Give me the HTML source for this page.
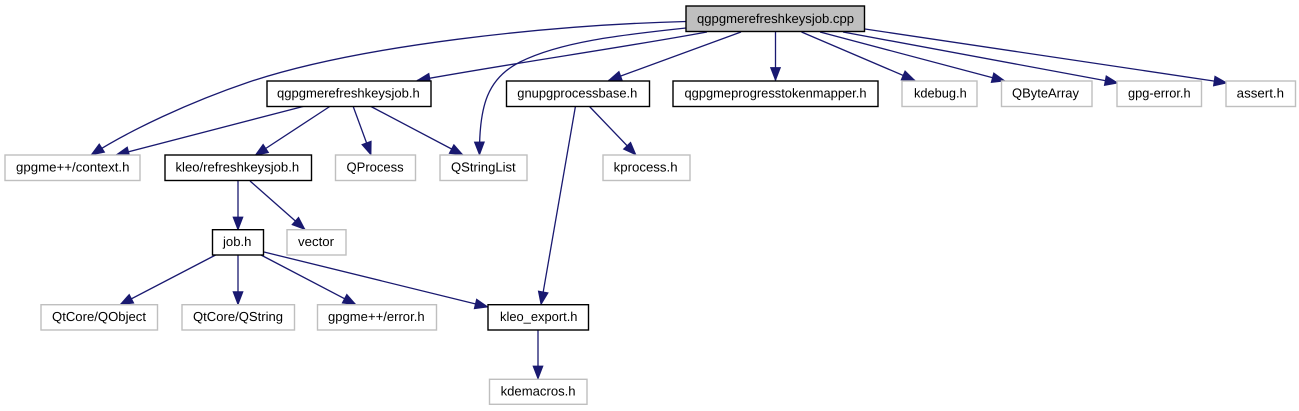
<!DOCTYPE html>
<html>
<head>
<meta charset="utf-8">
<style>
html,body{margin:0;padding:0;background:#fff;width:1299px;height:411px;overflow:hidden}
svg{display:block;filter:blur(0.3px)}
text{font-family:"Liberation Sans",sans-serif;font-size:13px;fill:#000;text-rendering:geometricPrecision}
.b{fill:#fff;stroke:#000;stroke-width:1.4}
.g{fill:#fff;stroke:#bfbfbf;stroke-width:1.4}
.e{fill:none;stroke:#191970;stroke-width:1.3}
</style>
</head>
<body>
<svg width="1299" height="411" viewBox="0 0 1299 411" xmlns="http://www.w3.org/2000/svg">
<defs>
<marker id="m" markerUnits="userSpaceOnUse" markerWidth="17" markerHeight="14" refX="14.5" refY="7" orient="auto">
<path d="M1.5,2 L14.5,7 L1.5,12 Z" fill="#191970" stroke="#191970" stroke-width="0.8"/>
</marker>
</defs>

<!-- edges -->
<path class="e" marker-end="url(#m)" d="M686,21.5 C550,25 360,45 249,82 C190,102 130,130 91,155"/>
<path class="e" marker-end="url(#m)" d="M707,32 C620,48 520,62 417,80.5"/>
<path class="e" marker-end="url(#m)" d="M686,28 C620,35 560,42 520,62 C488,78 479,105 479.5,155"/>
<path class="e" marker-end="url(#m)" d="M741,32 L608.5,80.5"/>
<path class="e" marker-end="url(#m)" d="M775.5,32 L775.5,80.5"/>
<path class="e" marker-end="url(#m)" d="M801.5,32 L915,80.5"/>
<path class="e" marker-end="url(#m)" d="M820,32 L1005,81"/>
<path class="e" marker-end="url(#m)" d="M843,32 L1118,83"/>
<path class="e" marker-end="url(#m)" d="M865,29 L1227,83"/>
<path class="e" marker-end="url(#m)" d="M305,106 L116,155"/>
<path class="e" marker-end="url(#m)" d="M330.5,106 L255,155.5"/>
<path class="e" marker-end="url(#m)" d="M353,106 L371,155"/>
<path class="e" marker-end="url(#m)" d="M370,106 L463,155"/>
<path class="e" marker-end="url(#m)" d="M589,106 L636,155"/>
<path class="e" marker-end="url(#m)" d="M575.5,106 L541,304.7"/>
<path class="e" marker-end="url(#m)" d="M238,181 L238,230"/>
<path class="e" marker-end="url(#m)" d="M250,181 L305,229.5"/>
<path class="e" marker-end="url(#m)" d="M215.6,255 L120,304.7"/>
<path class="e" marker-end="url(#m)" d="M238,255 L238,304.7"/>
<path class="e" marker-end="url(#m)" d="M261,255 L356,304.7"/>
<path class="e" marker-end="url(#m)" d="M264,252 L488,307"/>
<path class="e" marker-end="url(#m)" d="M538,330 L538,379"/>

<!-- nodes -->
<rect x="686" y="6" width="178.5" height="25.5" fill="#bfbfbf" stroke="#000" stroke-width="1.4"/>
<text x="697" y="23" textLength="157" lengthAdjust="spacingAndGlyphs">qgpgmerefreshkeysjob.cpp</text>

<rect class="b" x="267" y="81" width="164" height="25.5"/>
<text x="277" y="97.5" textLength="142.7" lengthAdjust="spacingAndGlyphs">qgpgmerefreshkeysjob.h</text>

<rect class="b" x="506.5" y="81" width="143" height="25.5"/>
<text x="517.3" y="97.5" textLength="120" lengthAdjust="spacingAndGlyphs">gnupgprocessbase.h</text>

<rect class="b" x="673" y="81" width="205" height="25.5"/>
<text x="684.5" y="97.5" textLength="182" lengthAdjust="spacingAndGlyphs">qgpgmeprogresstokenmapper.h</text>

<rect class="g" x="902" y="81" width="75" height="25.5"/>
<text x="914" y="97.5" textLength="52.7" lengthAdjust="spacingAndGlyphs">kdebug.h</text>

<rect class="g" x="1001.5" y="81" width="90.5" height="25.5"/>
<text x="1012" y="97.5" textLength="67" lengthAdjust="spacingAndGlyphs">QByteArray</text>

<rect class="g" x="1117" y="81" width="84.5" height="25.5"/>
<text x="1128" y="97.5" textLength="62.6" lengthAdjust="spacingAndGlyphs">gpg-error.h</text>

<rect class="g" x="1226" y="81" width="69.5" height="25.5"/>
<text x="1236.7" y="97.5" textLength="47.3" lengthAdjust="spacingAndGlyphs">assert.h</text>

<rect class="g" x="5" y="155" width="135" height="25.5"/>
<text x="16" y="171.5" textLength="113.5" lengthAdjust="spacingAndGlyphs">gpgme++/context.h</text>

<rect class="b" x="165" y="155" width="146.5" height="25.5"/>
<text x="175.5" y="171.5" textLength="123.6" lengthAdjust="spacingAndGlyphs">kleo/refreshkeysjob.h</text>

<rect class="g" x="335.5" y="155" width="80" height="25.5"/>
<text x="346.5" y="171.5" textLength="57.2" lengthAdjust="spacingAndGlyphs">QProcess</text>

<rect class="g" x="440" y="155" width="87" height="25.5"/>
<text x="451" y="171.5" textLength="64.7" lengthAdjust="spacingAndGlyphs">QStringList</text>

<rect class="g" x="603" y="155" width="87" height="25.5"/>
<text x="613.6" y="171.5" textLength="64" lengthAdjust="spacingAndGlyphs">kprocess.h</text>

<rect class="b" x="212.5" y="229.7" width="51" height="25.3"/>
<text x="223" y="246" textLength="28.4" lengthAdjust="spacingAndGlyphs">job.h</text>

<rect class="g" x="287" y="229.7" width="59" height="25.3"/>
<text x="298" y="246" textLength="36" lengthAdjust="spacingAndGlyphs">vector</text>

<rect class="g" x="41" y="304.7" width="116.5" height="25.3"/>
<text x="52" y="321" textLength="94" lengthAdjust="spacingAndGlyphs">QtCore/QObject</text>

<rect class="g" x="182" y="304.7" width="112.5" height="25.3"/>
<text x="193" y="321" textLength="90" lengthAdjust="spacingAndGlyphs">QtCore/QString</text>

<rect class="g" x="317.5" y="304.7" width="119" height="25.3"/>
<text x="328" y="321" textLength="96.6" lengthAdjust="spacingAndGlyphs">gpgme++/error.h</text>

<rect class="b" x="488" y="304.7" width="100.5" height="25.3"/>
<text x="500" y="321" textLength="77.5" lengthAdjust="spacingAndGlyphs">kleo_export.h</text>

<rect class="g" x="489.5" y="379.3" width="97.5" height="25"/>
<text x="500.6" y="395.5" textLength="75" lengthAdjust="spacingAndGlyphs">kdemacros.h</text>
</svg>
</body>
</html>
